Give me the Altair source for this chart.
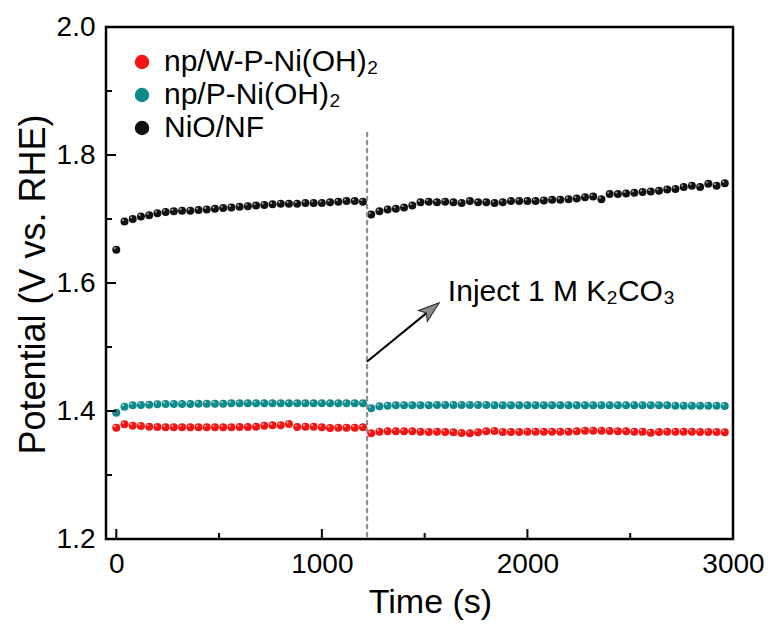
import altair as alt
import pandas as pd

# ---------------- data ----------------
series_names = ["np/W-P-Ni(OH)₂", "np/P-Ni(OH)₂", "NiO/NF"]
series_colors = ["#f41414", "#0f8a8a", "#111111"]

times_before = [0, 40, 80, 120, 160, 200, 240, 280, 320, 360, 400, 440, 480, 520, 560, 600,
                640, 680, 720, 760, 800, 840, 880, 920, 960, 1000, 1040, 1080, 1120, 1160, 1200]
times_after = [1240, 1280, 1320, 1360, 1400, 1440, 1480, 1520, 1560, 1600, 1640, 1680, 1720, 1760,
               1800, 1840, 1880, 1920, 1960, 2000, 2040, 2080, 2120, 2160, 2200, 2240, 2280, 2320,
               2360, 2400, 2440, 2480, 2520, 2560, 2600, 2640, 2680, 2720, 2760, 2800, 2840, 2880,
               2920, 2960]

red_before = [1.3740, 1.3792, 1.3771, 1.3766, 1.3755, 1.3750, 1.3745, 1.3745, 1.3745, 1.3745,
              1.3745, 1.3745, 1.3745, 1.3745, 1.3745, 1.3750, 1.3750, 1.3755, 1.3771, 1.3776,
              1.3776, 1.3797, 1.3750, 1.3755, 1.3755, 1.3745, 1.3734, 1.3740, 1.3740, 1.3740, 1.3745]
red_after = [1.3651, 1.3677, 1.3682, 1.3682, 1.3682, 1.3682, 1.3677, 1.3672, 1.3677, 1.3672,
             1.3667, 1.3656, 1.3651, 1.3667, 1.3682, 1.3688, 1.3672, 1.3672, 1.3672, 1.3677,
             1.3677, 1.3677, 1.3677, 1.3677, 1.3677, 1.3682, 1.3693, 1.3693, 1.3693, 1.3688,
             1.3682, 1.3682, 1.3677, 1.3677, 1.3661, 1.3672, 1.3677, 1.3677, 1.3677, 1.3677,
             1.3672, 1.3672, 1.3672, 1.3667]

teal_before = [1.3974, 1.4068, 1.4089, 1.4094, 1.4099, 1.4104, 1.4109, 1.4109, 1.4109, 1.4109,
               1.4115, 1.4115, 1.4115, 1.4115, 1.4120, 1.4120, 1.4120, 1.4120, 1.4120, 1.4120,
               1.4120, 1.4120, 1.4120, 1.4120, 1.4120, 1.4120, 1.4120, 1.4120, 1.4120, 1.4120, 1.4120]
teal_after = [1.4042, 1.4073, 1.4083, 1.4089, 1.4089, 1.4089, 1.4089, 1.4089, 1.4094, 1.4094,
              1.4094, 1.4094, 1.4094, 1.4094, 1.4094, 1.4089, 1.4089, 1.4089, 1.4089, 1.4089,
              1.4089, 1.4089, 1.4089, 1.4089, 1.4089, 1.4089, 1.4089, 1.4089, 1.4089, 1.4089,
              1.4089, 1.4089, 1.4089, 1.4089, 1.4089, 1.4089, 1.4089, 1.4083, 1.4083, 1.4083,
              1.4083, 1.4083, 1.4083, 1.4078]

black_before = [1.652, 1.696, 1.700, 1.704, 1.706, 1.709, 1.711, 1.712, 1.713, 1.713, 1.714,
                1.715, 1.716, 1.717, 1.718, 1.719, 1.720, 1.721, 1.722, 1.723, 1.724, 1.724,
                1.724, 1.725, 1.725, 1.725, 1.726, 1.727, 1.728, 1.728, 1.727]
black_after = [1.707, 1.712, 1.715, 1.716, 1.718, 1.721, 1.726, 1.727, 1.726, 1.727, 1.726,
               1.725, 1.728, 1.726, 1.726, 1.725, 1.726, 1.728, 1.728, 1.728, 1.728, 1.729,
               1.730, 1.730, 1.731, 1.732, 1.734, 1.735, 1.731, 1.739, 1.739, 1.740, 1.741,
               1.742, 1.743, 1.744, 1.746, 1.747, 1.750, 1.752, 1.750, 1.755, 1.752, 1.756]

x_major = [0, 1000, 2000, 3000]
x_minor = [500, 1500, 2500]
y_major = [1.2, 1.4, 1.6, 1.8, 2.0]
y_minor = [1.3, 1.5, 1.7, 1.9]

inject_time = [1220]
inject_line_v = [1.836, 1.2]
arrow_from = [1219, 1.477]
arrow_head = [1528, 1.558]
label_pos = [1613, 1.586]
label_text = "Inject 1 M K₂CO₃"

# ---------------- build ----------------
rows = []
for name, vb, va in zip(series_names,
                        [red_before, teal_before, black_before],
                        [red_after, teal_after, black_after]):
    for t, v in zip(times_before + times_after, vb + va):
        rows.append({"t": t, "v": v, "series": name})
df = pd.DataFrame(rows)

W, H = 627, 512
FONT = "Liberation Sans"
xscale = alt.Scale(domain=[-50, 3000], nice=False, zero=False)
yscale = alt.Scale(domain=[1.2, 2.0], nice=False, zero=False)

x_axis = alt.Axis(title="Time (s)", values=x_major, format="d", labelFlush=False,
                  labelPadding=11, titleX=324, titleY=63, titleFontSize=34,
                  titleBaseline="middle", titleAlign="center")
y_axis = alt.Axis(title="Potential (V vs. RHE)", values=y_major, format=".1f", labelFlush=False,
                  labelPadding=11, titleX=-73, titleY=257, titleFontSize=36,
                  titleBaseline="middle", titleAlign="center")


def X(field):
    return alt.X(f"{field}:Q", scale=xscale, axis=x_axis)


def Y(field):
    return alt.Y(f"{field}:Q", scale=yscale, axis=y_axis)


points = alt.Chart(df).mark_circle(size=64, opacity=1).encode(
    x=X("t"), y=Y("v"),
    color=alt.Color("series:N",
                    scale=alt.Scale(domain=series_names, range=series_colors),
                    legend=alt.Legend(title=None, orient="none", legendX=21, legendY=20,
                                      symbolType="circle", symbolSize=210,
                                      symbolStrokeWidth=0, symbolOpacity=1,
                                      labelFont=FONT, labelFontSize=30, labelLimit=0,
                                      labelColor="black", labelOffset=7,
                                      rowPadding=3)),
)

highlight = alt.Chart(df).mark_circle(size=5, color="white", opacity=0.6,
                                      xOffset=-1.5, yOffset=-1.5).encode(x=X("t"), y=Y("v"))


def xticks(vals, length):
    return alt.Chart(pd.DataFrame({"t": vals})).mark_rule(color="black", strokeWidth=2).encode(
        x=X("t"), y=alt.value(H), y2=alt.value(H - length))


def yticks(vals, length):
    return alt.Chart(pd.DataFrame({"v": vals})).mark_rule(color="black", strokeWidth=2).encode(
        y=Y("v"), x=alt.value(0), x2=alt.value(length))


dash = alt.Chart(pd.DataFrame({"t": inject_time, "v1": [inject_line_v[0]], "v2": [inject_line_v[1]]})
                 ).mark_rule(color="#8f8f8f", strokeWidth=2.2, strokeDash=[5, 3]).encode(
    x=X("t"), y=Y("v1"), y2="v2:Q")

arrow_df = pd.DataFrame({"x1": [arrow_from[0]], "y1": [arrow_from[1]],
                         "x2": [arrow_head[0]], "y2": [arrow_head[1]]})
arrow_line = alt.Chart(arrow_df).mark_rule(color="black", strokeWidth=2).encode(
    x=X("x1"), y=Y("y1"), x2="x2:Q", y2="y2:Q")

arrow_tip = alt.Chart(arrow_df).mark_point(
    shape="M0,-1 L0.62,0.85 L0,0.45 L-0.62,0.85 Z", filled=True, fill="#8c8c8c",
    stroke="#222222", strokeWidth=1, size=520, angle=51, opacity=1).encode(
    x=X("x2"), y=Y("y2"))

label = alt.Chart(pd.DataFrame({"x": [label_pos[0]], "y": [label_pos[1]], "txt": [label_text]})
                  ).mark_text(align="left", baseline="middle", font=FONT, fontSize=30,
                              color="black").encode(x=X("x"), y=Y("y"), text="txt:N")

chart = alt.layer(
    points, highlight, dash, arrow_line, arrow_tip, label,
    xticks(x_major, 10), xticks(x_minor, 6), yticks(y_major, 10), yticks(y_minor, 6),
).properties(
    width=W, height=H,
    padding={"left": 106, "top": 27, "right": 38, "bottom": 85},
    autosize=alt.AutoSizeParams(type="none"),
    background="white",
).configure_view(
    stroke="black", strokeWidth=2.5
).configure_axis(
    grid=False, ticks=False, domain=False, tickSize=0,
    labelFont=FONT, labelFontSize=28, labelColor="black",
    titleFont=FONT, titleFontWeight="normal", titleColor="black",
)

chart.save("out.html", embed_options={"renderer": "svg", "actions": False})
